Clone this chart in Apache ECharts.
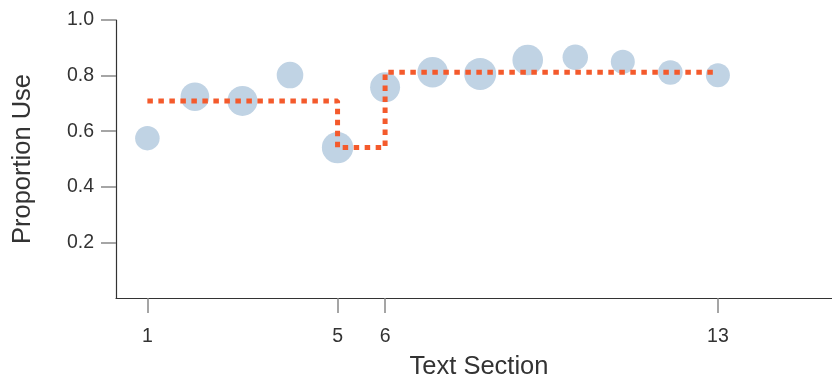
<!DOCTYPE html>
<html>
<head>
<meta charset="utf-8">
<script src="https://cdn.jsdelivr.net/npm/echarts@6/dist/echarts.min.js"></script>
<style>
  html, body { margin: 0; padding: 0; background: #fff; }
  #chart { width: 832px; height: 378px; }
</style>
</head>
<body>
<div id="chart"></div>
<script>
// Proportion of use per text section; circle area reflects section size.
const sections   = [1, 2, 3, 4, 5, 6, 7, 8, 9, 10, 11, 12, 13];
const proportion = [0.575, 0.724, 0.709, 0.802, 0.541, 0.758, 0.812, 0.806, 0.856, 0.866, 0.850, 0.811, 0.801];
const sectionN   = [150, 205, 225, 177, 246, 225, 234, 256, 234, 161, 144, 151, 144];

// Segment means: breakpoints on the section axis and the level of each segment.
const segmentBreaks = [1, 5, 6, 13];
const segmentMeans  = [0.709, 0.541, 0.812];

const xTicks = [1, 5, 6, 13];
const yTicks = [0.2, 0.4, 0.6, 0.8, 1.0];

const scatterData = sections.map((s, i) => [s, proportion[i], sectionN[i]]);

const stepData = [];
segmentMeans.forEach((m, i) => {
  stepData.push([segmentBreaks[i], m]);
  stepData.push([segmentBreaks[i + 1], m]);
});

const font = "'Liberation Sans', Arial, Helvetica, sans-serif";
const textColor = '#333333';

const chart = echarts.init(document.getElementById('chart'), null, { renderer: 'canvas' });
chart.setOption({
  animation: false,
  backgroundColor: '#ffffff',
  grid: { left: 116, right: 0, top: 20, bottom: 80, containLabel: false, outerBoundsMode: 'none' },
  xAxis: {
    type: 'value',
    min: 0.34,
    max: 15.4,
    name: 'Text Section',
    nameLocation: 'middle',
    nameGap: 56,
    nameTextStyle: { fontFamily: font, fontSize: 25.5, color: textColor, padding: [0, 0, 0, 10] },
    axisLine: { show: true, onZero: false, lineStyle: { color: '#333333', width: 1.2 } },
    axisTick: { show: true, length: 15, customValues: xTicks, lineStyle: { color: '#888888', width: 1.5 } },
    axisLabel: { customValues: xTicks, margin: 29, fontFamily: font, fontSize: 19.5, color: textColor },
    splitLine: { show: false }
  },
  yAxis: {
    type: 'value',
    min: 0,
    max: 1,
    name: 'Proportion Use',
    nameLocation: 'middle',
    nameGap: 80,
    nameTextStyle: { fontFamily: font, fontSize: 25.5, color: textColor },
    axisLine: { show: true, lineStyle: { color: '#333333', width: 1.2 } },
    axisTick: { show: true, length: 15, customValues: yTicks, lineStyle: { color: '#888888', width: 1.5 } },
    axisLabel: {
      customValues: yTicks,
      margin: 22,
      fontFamily: font,
      fontSize: 19.5,
      color: textColor,
      formatter: v => v.toFixed(1)
    },
    splitLine: { show: false }
  },
  series: [
    {
      type: 'scatter',
      data: scatterData,
      symbol: 'circle',
      symbolSize: d => 2 * Math.sqrt(d[2]),
      itemStyle: { color: '#c0d3e4', opacity: 1 },
      z: 2
    },
    {
      type: 'line',
      data: stepData,
      showSymbol: false,
      symbol: 'none',
      lineStyle: { color: '#f45a2c', width: 5, type: [5.5, 5.5], cap: 'butt' },
      z: 3
    }
  ]
});
</script>
</body>
</html>
